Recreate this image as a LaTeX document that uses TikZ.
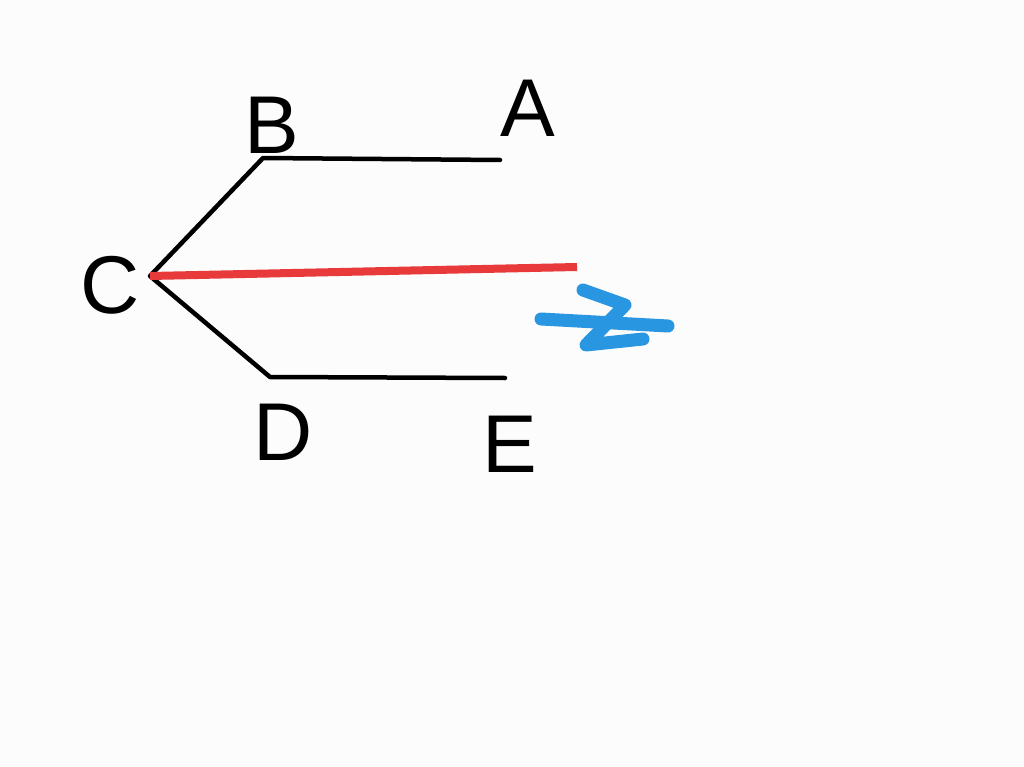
\documentclass[tikz,border=0pt]{standalone}
\usepackage{fontspec}
\setmainfont{Liberation Sans}
\definecolor{penred}{RGB}{232,58,58}
\definecolor{penblue}{RGB}{40,150,225}
\definecolor{paper}{RGB}{252,252,252}
\begin{document}
\begin{tikzpicture}[x=1pt,y=-1pt,
  lbl/.style={font=\fontsize{82}{82}\selectfont, inner sep=0pt},
  ink/.style={line width=4.5pt, line cap=round, line join=round},
  redink/.style={line width=8pt, penred, line cap=butt},
  blueink/.style={line width=13pt, penblue, line cap=round, line join=round}]
\useasboundingbox[fill=paper] (0,0) rectangle (1024,767);
\coordinate (pB) at (263,158);
\coordinate (pA) at (500,160);
\coordinate (pC) at (150,276);
\coordinate (pD) at (270,377);
\coordinate (pE) at (505,378);
\coordinate (pR) at (577,267);
\node[lbl] (B) at (272,125) {B};
\node[lbl] (A) at (528,108) {A};
\node[lbl] (C) at (110,285) {C};
\node[lbl] (D) at (283,432) {D};
\node[lbl] (E) at (510,444) {E};
\draw[ink] (pA) -- (pB) -- (pC) -- (pD) -- (pE);
\draw[redink] (pC) -- (pR);
\coordinate (z1) at (583,290);
\coordinate (z2) at (625,305);
\coordinate (z3) at (586,345);
\coordinate (z4) at (643,339);
\coordinate (h1) at (541,319);
\coordinate (h2) at (668,326);
\draw[blueink] (h1) -- (h2);
\draw[blueink] (z1) -- (z2) -- (z3) -- (z4);
\end{tikzpicture}
\end{document}
